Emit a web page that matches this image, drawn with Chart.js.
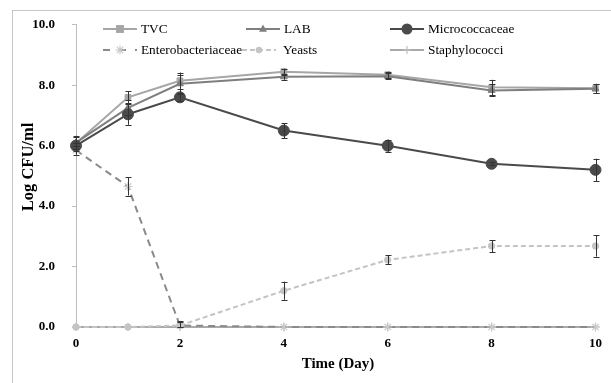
<!DOCTYPE html>
<html><head><meta charset="utf-8">
<script src="https://cdn.jsdelivr.net/npm/chart.js@4/dist/chart.umd.min.js"></script>
<style>html,body{margin:0;padding:0;background:#fff}</style>
</head><body>
<canvas id="c" width="611" height="383"></canvas>
<script>
// ---- data ----
const days = [0, 1, 2, 4, 6, 8, 10];
const yTicks = [0, 2, 4, 6, 8, 10];
const tvc = [6.08, 7.6, 8.15, 8.45, 8.35, 7.93, 7.9];
const tvcErr = [0.25, 0.2, 0.27, 0.1, 0.1, 0.25, 0.15];
const lab = [6.1, 7.25, 8.05, 8.28, 8.3, 7.83, 7.88];
const labErr = [0.2, 0.25, 0.3, 0.1, 0.1, 0.2, 0.15];
const micro = [6.0, 7.04, 7.6, 6.5, 6.0, 5.4, 5.2];
const microErr = [0.1, 0.35, 0.12, 0.25, 0.2, 0.05, 0.37];
const entero = [5.85, 4.65, 0.05, 0, 0, 0, 0];
const enteroErr = [0.15, 0.3, 0.15, 0, 0, 0, 0];
const yeasts = [0, 0, 0.05, 1.2, 2.22, 2.68, 2.68];
const yeastsErr = [0, 0, 0.12, 0.3, 0.15, 0.2, 0.35];
const staph = [0, 0, 0, 0, 0, 0, 0];
const labels = ['TVC', 'LAB', 'Micrococcaceae', 'Enterobacteriaceae', 'Yeasts', 'Staphylococci'];

const styles = [
  {color:'#a6a6a6', point:'rect', r:4, dash:[], w:2},
  {color:'#7f7f7f', point:'triangle', r:4, dash:[], w:2},
  {color:'#4a4a4a', point:'circle', r:5.5, dash:[], w:2},
  {color:'#8a8a8a', pointColor:'#c8c8c8', point:'star', r:4.5, dash:[7,5], w:2},
  {color:'#c4c4c4', point:'circle', r:3.2, dash:[5,3], w:2},
  {color:'#a9a9a9', pointColor:'#c0c0c0', point:'cross', r:4, dash:[], w:2}
];
const values = [tvc, lab, micro, entero, yeasts, staph];
const errors = [tvcErr, labErr, microErr, enteroErr, yeastsErr, null];

const datasets = values.map((v, k) => {
  const s = styles[k];
  return {
    label: labels[k],
    data: days.map((d, i) => ({x: d, y: v[i]})),
    errs: errors[k],
    borderColor: s.color,
    backgroundColor: s.pointColor || s.color,
    pointBorderColor: s.pointColor || s.color,
    pointBackgroundColor: s.pointColor || s.color,
    pointStyle: s.point,
    pointRadius: s.r,
    pointBorderWidth: (s.point === 'star' || s.point === 'cross') ? 1.2 : 1,
    borderWidth: s.w,
    borderDash: s.dash,
    tension: 0,
    clip: false
  };
});
datasets[5].order = 6; datasets[4].order = 5; datasets[3].order = 4;
datasets[0].order = 3; datasets[1].order = 2; datasets[2].order = 1;

const FONT = '"Liberation Serif", "Times New Roman", serif';

function drawMarker(ctx, style, x, y, r, fill, stroke, lw) {
  ctx.save();
  ctx.fillStyle = fill; ctx.strokeStyle = stroke; ctx.lineWidth = lw; ctx.setLineDash([]);
  ctx.beginPath();
  if (style === 'circle') { ctx.arc(x, y, r, 0, Math.PI * 2); ctx.fill(); }
  else if (style === 'rect') { const a = r * Math.SQRT1_2 * 1.4; ctx.fillRect(x - a, y - a, 2 * a, 2 * a); }
  else if (style === 'triangle') { ctx.moveTo(x, y - r * 1.1); ctx.lineTo(x + r, y + r * 0.7); ctx.lineTo(x - r, y + r * 0.7); ctx.closePath(); ctx.fill(); }
  else if (style === 'star') {
    for (let a = 0; a < 4; a++) { const t = a * Math.PI / 4; ctx.moveTo(x - r * Math.cos(t), y - r * Math.sin(t)); ctx.lineTo(x + r * Math.cos(t), y + r * Math.sin(t)); }
    ctx.stroke();
  } else if (style === 'cross') { ctx.moveTo(x - r, y); ctx.lineTo(x + r, y); ctx.moveTo(x, y - r); ctx.lineTo(x, y + r); ctx.stroke(); }
  ctx.restore();
}

const decor = {
  id: 'decor',
  beforeDraw(chart) {
    const ctx = chart.ctx;
    ctx.save();
    ctx.fillStyle = '#fff'; ctx.fillRect(0, 0, chart.width, chart.height);
    ctx.strokeStyle = '#c6c6c6'; ctx.lineWidth = 1;
    ctx.strokeRect(12.5, 10.5, 800, 600);
    ctx.restore();
  },
  afterDatasetsDraw(chart) {
    const ctx = chart.ctx, xs = chart.scales.x, ys = chart.scales.y;
    ctx.save();
    ctx.beginPath(); ctx.rect(0, 0, 603, chart.height); ctx.clip();
    ctx.strokeStyle = '#333'; ctx.lineWidth = 1; ctx.setLineDash([]);
    chart.data.datasets.forEach(ds => {
      if (!ds.errs) return;
      ds.data.forEach((p, i) => {
        const e = ds.errs[i]; if (!e) return;
        const px = Math.round(xs.getPixelForValue(p.x)) + 0.5;
        const y1 = ys.getPixelForValue(p.y + e), y2 = ys.getPixelForValue(Math.max(0, p.y - e));
        ctx.beginPath();
        ctx.moveTo(px, y1); ctx.lineTo(px, y2);
        ctx.moveTo(px - 3, Math.round(y1) + 0.5); ctx.lineTo(px + 3, Math.round(y1) + 0.5);
        ctx.moveTo(px - 3, Math.round(y2) + 0.5); ctx.lineTo(px + 3, Math.round(y2) + 0.5);
        ctx.stroke();
      });
    });
    ctx.restore();
  },
  afterDraw(chart) {
    const ctx = chart.ctx;
    const cols = [103, 246, 390], rows = [29, 50];
    ctx.save();
    ctx.font = '13.3px ' + FONT; ctx.fillStyle = '#000'; ctx.textBaseline = 'middle'; ctx.textAlign = 'left';
    labels.forEach((lab, k) => {
      const s = styles[k];
      const x0 = cols[k % 3] - (k === 4 ? 4 : 0), y = rows[Math.floor(k / 3)];
      ctx.save();
      ctx.strokeStyle = s.color; ctx.lineWidth = s.w;
      ctx.setLineDash(k === 3 ? [7, 9] : s.dash);
      ctx.beginPath(); ctx.moveTo(x0, y); ctx.lineTo(x0 + 34, y); ctx.stroke();
      ctx.restore();
      drawMarker(ctx, s.point, x0 + 17, y, s.r, s.pointColor || s.color, s.pointColor || s.color, 1.2);
      ctx.fillText(lab, x0 + 38 + (k === 4 ? 3 : 0), y + 1);
    });
    ctx.font = 'bold 15px ' + FONT; ctx.textAlign = 'center';
    ctx.fillText('Time (Day)', 338, 364);
    ctx.translate(29, 167); ctx.rotate(-Math.PI / 2);
    ctx.font = 'bold 16.5px ' + FONT;
    ctx.fillText('Log CFU/ml', 0, 0);
    ctx.restore();
  }
};

new Chart(document.getElementById('c'), {
  type: 'line',
  data: {datasets},
  plugins: [decor],
  options: {
    responsive: false, animation: false, devicePixelRatio: 1,
    layout: {padding: {left: 0, right: 10, top: 23, bottom: 0}},
    plugins: {legend: {display: false}, tooltip: {enabled: false}},
    scales: {
      x: {
        type: 'linear', min: 0, max: 10,
        afterBuildTicks: s => { s.ticks = [0, 2, 4, 6, 8, 10].map(v => ({value: v})); },
        ticks: {color: '#000', font: {family: FONT, size: 13, weight: 'bold'}, padding: 9, maxRotation: 0},
        grid: {drawOnChartArea: false, drawTicks: false},
        border: {color: '#bdbdbd', width: 1},
        afterFit: s => { s.height = 56; }
      },
      y: {
        min: 0, max: 10,
        afterBuildTicks: s => { s.ticks = yTicks.map(v => ({value: v})); },
        ticks: {color: '#000', font: {family: FONT, size: 13, weight: 'bold'}, padding: 17, callback: v => Number(v).toFixed(1)},
        grid: {drawOnChartArea: false, tickLength: 4, color: '#bdbdbd'},
        border: {color: '#bdbdbd', width: 1},
        afterFit: s => { s.width = 76; }
      }
    }
  }
});
</script>
</body></html>
